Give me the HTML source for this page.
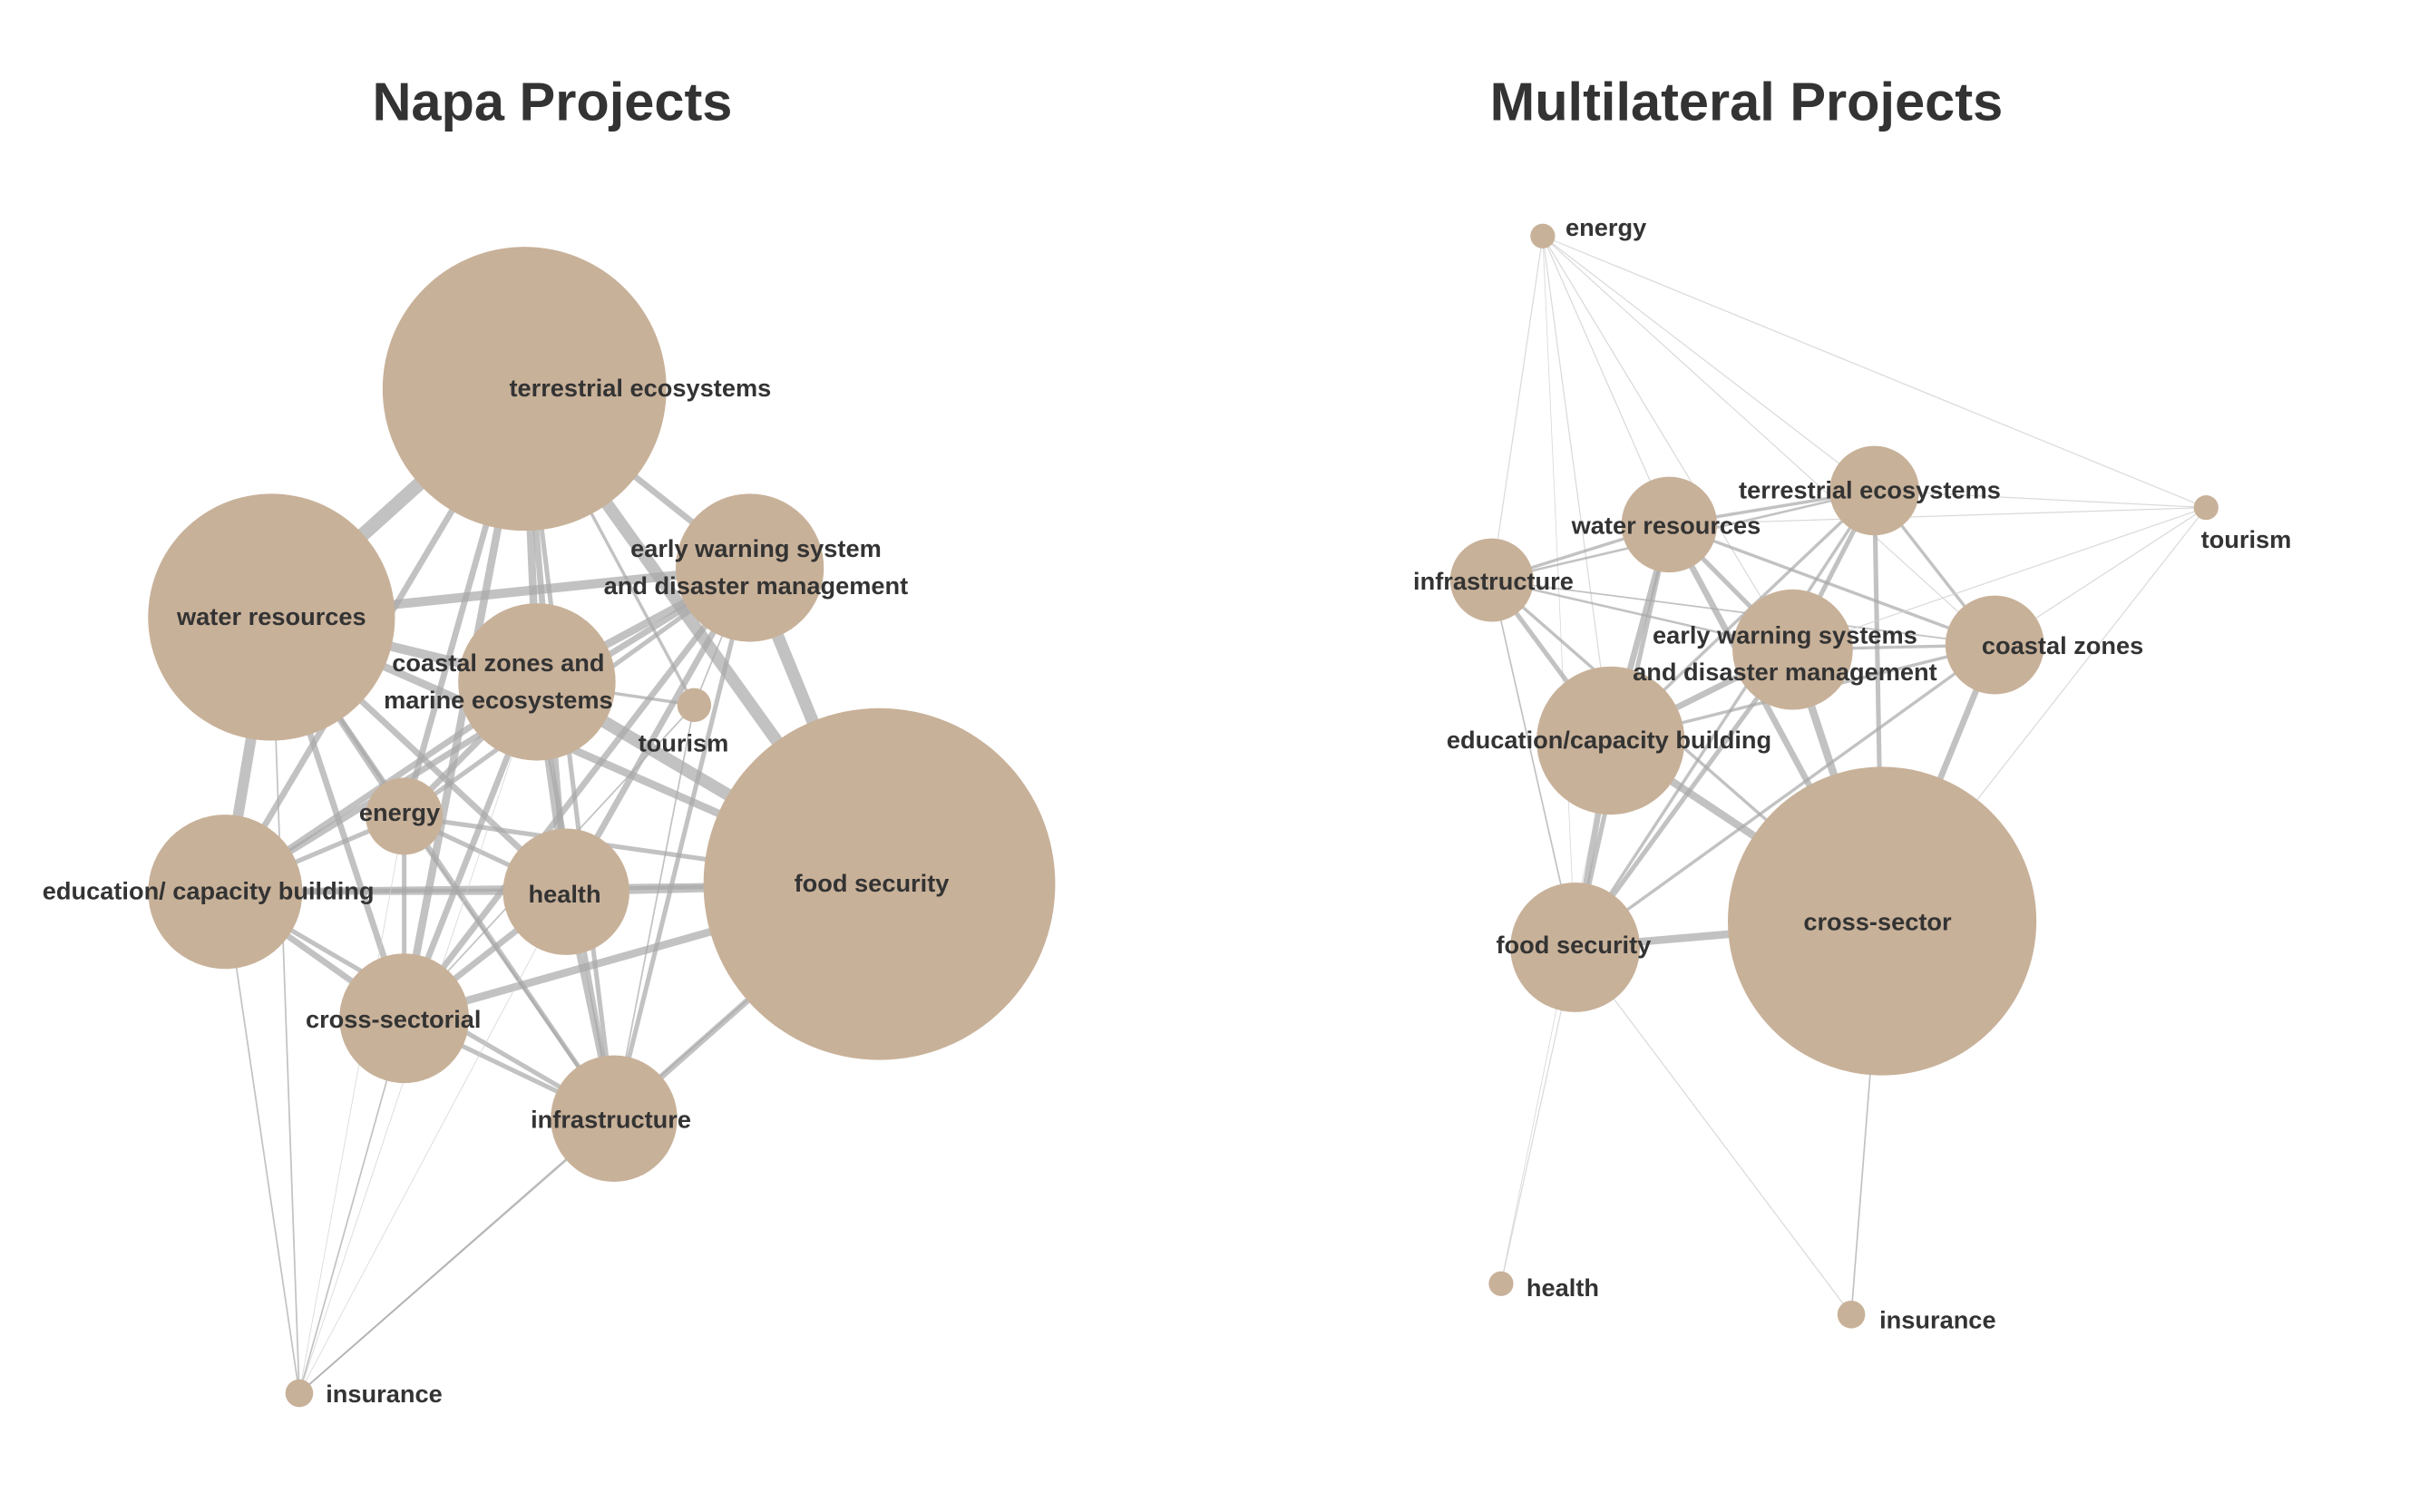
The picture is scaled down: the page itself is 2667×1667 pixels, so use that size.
<!DOCTYPE html>
<html><head><meta charset="utf-8">
<style>
html,body{margin:0;padding:0;background:#fff;}
svg{display:block;}
text{font-family:"Liberation Sans Narrow","Liberation Sans",sans-serif;font-weight:bold;fill:#333;}
.lbl{font-size:16px;}
.title{font-size:35px;}
</style></head>
<body>
<svg id="chart" width="2667" height="1667" viewBox="0 0 1568 980" preserveAspectRatio="none" xmlns="http://www.w3.org/2000/svg">
<text class="title" x="358" y="78" text-anchor="middle">Napa Projects</text>
<text class="title" x="1132" y="78" text-anchor="middle">Multilateral Projects</text>
<g id="napa"></g>
<g id="multi"></g>
</svg>
<script>
// Napa network data
const napaNames = ["terrestrial ecosystems","water resources","early warning system|and disaster management","coastal zones and|marine ecosystems","tourism","food security","energy","education/ capacity building","health","cross-sectorial","infrastructure","insurance"];
const napaX = [340,176,486,348,450,570,262,146,367,262,398,194];
const napaY = [252,400,368,442,457,573,529,578,578,660,725,903];
const napaR = [92,80,48,51,11,114,25,50,41,42,41,9];
const napaEdgeFrom = [0,0,0,0,0,0,0,0,0,0,1,1,1,1,1,1,1,1,1,2,2,2,2,2,2,2,2,3,3,3,3,3,3,3,5,5,5,5,5,5,6,6,6,6,7,7,7,7,8,8,9,9,10,8,3,6,4,4];
const napaEdgeTo   = [1,2,3,5,6,7,8,9,10,4,2,3,5,6,7,8,9,10,11,3,5,6,7,8,9,10,4,5,6,7,8,9,10,4,6,7,8,9,10,11,7,8,9,10,8,9,10,11,9,10,10,11,11,11,11,11,10,9];
const napaEdgeW    = [9,4,5,8,4,4,4,5,3,2,6,6,5,4,7,4,4,3,1,5,8,3,4,4,4,3,1,8,4,4,4,4,3,2,3,4,5,5,4,1,3,3,3,2,4,4,3,1,4,4,3,1,1,0.5,0.5,0.5,1,1];
const napaLabelDX = [75,0,4,-25,-7,-5,-3,-11,-1,-7,-2,55];
const napaLabelDY = [0,0,0,0,25,0,-2,0,2,1,1,1];

// Multilateral network data
const multiNames = ["energy","terrestrial ecosystems","tourism","water resources","infrastructure","early warning systems|and disaster management","coastal zones","education/capacity building","cross-sector","food security","health","insurance"];
const multiX = [1000,1215,1430,1082,967,1162,1293,1044,1220,1021,973,1200];
const multiY = [153,318,329,340,376,421,418,480,597,614,832,852];
const multiR = [8,29,8,31,27,39,32,48,100,42,8,9];
const multiEdgeFrom = [0,0,0,0,0,0,0,0,1,1,1,1,1,1,1,1,3,3,3,3,3,3,3,4,4,4,4,4,5,5,5,5,5,6,6,6,6,7,7,8,9,7,9,8,8];
const multiEdgeTo   = [1,3,5,2,4,7,6,9,3,5,7,8,9,6,2,4,4,5,7,8,9,6,2,5,7,8,9,6,6,7,8,9,2,7,8,9,2,8,9,9,10,10,11,11,2];
const multiEdgeW    = [0.7,0.7,0.7,0.7,0.7,0.7,0.7,0.5,2,3,2,3,2,2,0.7,1.5,2,3,4,4,3,2,0.7,1.5,3,2,1,1,2,4,5,3,0.7,2,4,2,0.7,5,4,5,0.7,0.5,0.7,1,0.7];
const multiLabelDX = [41,-3,26,-2,1,-5,44,-1,-3,-1,40,56];
const multiLabelDY = [-5,0,21,1,1,3,1,0,1,-1,3,4];

const NS = "http://www.w3.org/2000/svg";
function draw(gid, names, X, Y, R, ef, et, ew, ldx, ldy) {
  const g = document.getElementById(gid);
  for (let i = 0; i < ef.length; i++) {
    const l = document.createElementNS(NS, "line");
    l.setAttribute("x1", X[ef[i]]); l.setAttribute("y1", Y[ef[i]]);
    l.setAttribute("x2", X[et[i]]); l.setAttribute("y2", Y[et[i]]);
    l.setAttribute("stroke", ew[i] < 1 ? "#cfcfcf" : "#a8a8a8");
    l.setAttribute("stroke-opacity", ew[i] < 1 ? "0.8" : "0.7");
    l.setAttribute("stroke-width", ew[i]);
    
    
    g.appendChild(l);
  }
  for (let i = 0; i < names.length; i++) {
    const c = document.createElementNS(NS, "circle");
    c.setAttribute("cx", X[i]); c.setAttribute("cy", Y[i]); c.setAttribute("r", R[i]);
    c.setAttribute("fill", "#c8b199");
    
    
    g.appendChild(c);
  }
  for (let i = 0; i < names.length; i++) {
    const parts = names[i].split("|");
    const t = document.createElementNS(NS, "text");
    t.setAttribute("class", "lbl");
    t.setAttribute("text-anchor", "middle");
    const cx = X[i] + ldx[i];
    const cy = Y[i] + ldy[i] + 5 - (parts.length - 1) * 12;
    t.setAttribute("x", cx); t.setAttribute("y", cy);
    
    
    parts.forEach((p, k) => {
      const s = document.createElementNS(NS, "tspan");
      s.setAttribute("x", cx);
      s.setAttribute("dy", k === 0 ? 0 : 24);
      s.textContent = p;
      t.appendChild(s);
    });
    g.appendChild(t);
  }
}
draw("napa", napaNames, napaX, napaY, napaR, napaEdgeFrom, napaEdgeTo, napaEdgeW, napaLabelDX, napaLabelDY);
draw("multi", multiNames, multiX, multiY, multiR, multiEdgeFrom, multiEdgeTo, multiEdgeW, multiLabelDX, multiLabelDY);
</script>
</body></html>
